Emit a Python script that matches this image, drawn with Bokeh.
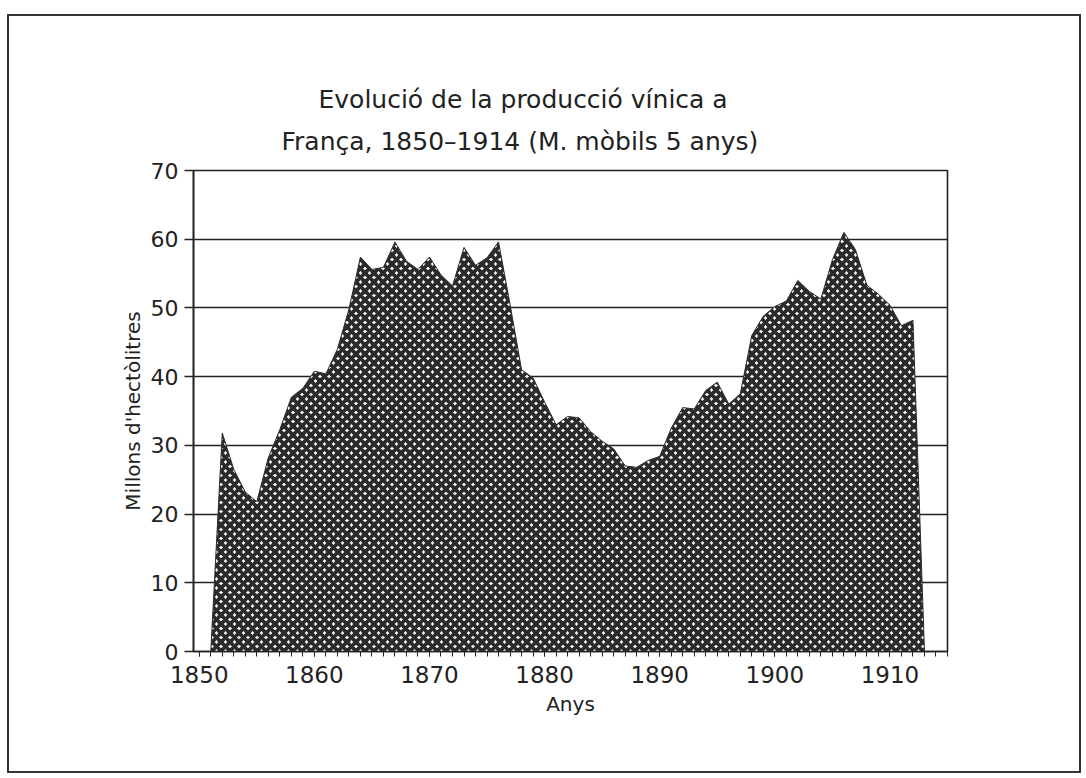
from bokeh.plotting import figure
from bokeh.models import SingleIntervalTicker, Title, Range1d
from bokeh.embed import file_html
from bokeh.resources import INLINE

# Data (5-year moving average, million hectolitres)
years = list(range(1851, 1914))
values = [
    0.0,                                               # 1851 (area base)
    31.8, 26.5, 23.2, 21.8, 28.2, 32.3, 37.0, 38.3,    # 1852-1859
    40.8, 40.4, 44.0, 49.8, 57.4, 55.6, 55.9, 59.6, 56.8, 55.6,  # 1860-1869
    57.4, 54.8, 53.2, 58.8, 56.2, 57.3, 59.6, 50.5, 41.0, 39.8,  # 1870-1879
    36.3, 33.0, 34.2, 34.0, 32.0, 30.6, 29.5, 27.0, 26.8, 27.8,  # 1880-1889
    28.4, 32.5, 35.5, 35.3, 38.0, 39.2, 36.0, 37.5, 46.0, 48.8,  # 1890-1899
    50.2, 51.0, 54.0, 52.4, 51.3, 57.0, 61.0, 58.5, 53.3, 52.0,  # 1900-1909
    50.4, 47.4, 48.2,                                  # 1910-1912
    0.0,                                               # 1913 (area base)
]

title_line1 = "Evolució de la producció vínica a"
title_line2 = "França,  1850–1914 (M. mòbils 5 anys)"
x_label = "Anys"
y_label = "Millons d'hectòlitres"

FONT = "DejaVu Sans"
INK = "#222222"

p = figure(
    width=1074, height=759,
    x_range=Range1d(1849.5, 1915.0), y_range=Range1d(0, 70),
    output_backend="svg", toolbar_location=None,
    min_border_left=184, min_border_right=136,
    min_border_top=154, min_border_bottom=124,
    styles={"border": "2px solid #333333", "margin-top": "14px", "margin-left": "7px"},
)
p.title = None

# titles (stacked above)
t2 = Title(text=title_line2, align="left", offset=88,
           text_font=FONT, text_font_size="25px", text_font_style="normal",
           text_color=INK, standoff=30)
t1 = Title(text=title_line1, align="left", offset=125,
           text_font=FONT, text_font_size="25px", text_font_style="normal",
           text_color=INK, standoff=-8)
p.add_layout(t2, "above")
p.add_layout(t1, "above")

p.patch(years, values, fill_color="white", hatch_pattern="x",
        hatch_color="#2b2b2b", hatch_scale=9, hatch_weight=3.8,
        line_color="#2b2b2b", line_width=1)

# frame
p.outline_line_color = INK
p.outline_line_width = 1.6
p.background_fill_color = "white"
p.border_fill_color = "white"

# grid
p.xgrid.visible = False
p.ygrid.ticker = SingleIntervalTicker(interval=10)
p.ygrid.grid_line_color = INK
p.ygrid.grid_line_width = 1.6

# x axis
xa = p.xaxis[0]
xa.ticker = SingleIntervalTicker(interval=10, num_minor_ticks=10)
xa.major_tick_out = 5
xa.major_tick_in = 0
xa.minor_tick_out = 5
xa.minor_tick_in = 0
xa.major_tick_line_color = INK
xa.minor_tick_line_color = INK
xa.axis_line_color = INK
xa.axis_line_width = 1.6
xa.major_label_text_font = FONT
xa.major_label_text_font_size = "23px"
xa.major_label_text_color = INK
xa.major_label_standoff = 9
xa.axis_label = x_label
xa.axis_label_text_font = FONT
xa.axis_label_text_font_size = "20px"
xa.axis_label_text_font_style = "normal"
xa.axis_label_text_color = INK
xa.axis_label_standoff = 6

# y axis
ya = p.yaxis[0]
ya.ticker = SingleIntervalTicker(interval=10, num_minor_ticks=0)
ya.major_tick_out = 9
ya.major_tick_in = 0
ya.minor_tick_line_color = None
ya.major_tick_line_color = INK
ya.major_tick_line_width = 1.6
ya.axis_line_color = INK
ya.axis_line_width = 1.6
ya.major_label_text_font = FONT
ya.major_label_text_font_size = "22px"
ya.major_label_text_color = INK
ya.major_label_standoff = 6
ya.axis_label = y_label
ya.axis_label_text_font = FONT
ya.axis_label_text_font_size = "20px"
ya.axis_label_text_font_style = "normal"
ya.axis_label_text_color = INK
ya.axis_label_standoff = 3

open("out.html", "w").write(file_html(p, INLINE))
